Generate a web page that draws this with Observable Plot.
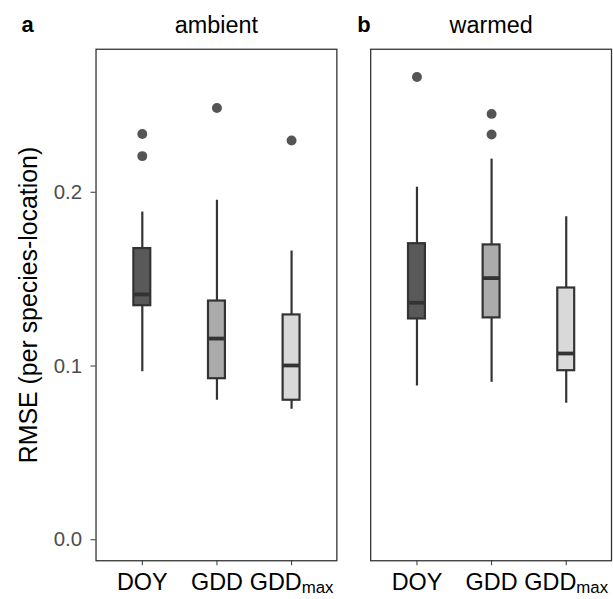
<!DOCTYPE html>
<html>
<head>
<meta charset="utf-8">
<script src="https://cdn.jsdelivr.net/npm/d3@7"></script>
<script src="https://cdn.jsdelivr.net/npm/@observablehq/plot@0.6"></script>
<style>
  html, body { margin: 0; padding: 0; background: white; overflow: hidden; }
  #chart { width: 613px; height: 599px; overflow: hidden; }
</style>
</head>
<body>
<div id="chart"></div>
<script>
// ---- data ----
const panels = ["ambient", "warmed"];
const panelLetters = ["a", "b"];
const categories = ["DOY", "GDD", "GDDmax"];

const boxPanel    = ["ambient", "ambient", "ambient", "warmed", "warmed", "warmed"];
const boxCategory = ["DOY", "GDD", "GDDmax", "DOY", "GDD", "GDDmax"];
const whiskerLow  = [0.0967, 0.0803, 0.0751, 0.0885, 0.0906, 0.0786];
const q1          = [0.1347, 0.0927, 0.0803, 0.1271, 0.1277, 0.0973];
const median      = [0.1412, 0.1158, 0.1003, 0.1364, 0.1506, 0.1072];
const q3          = [0.1676, 0.1374, 0.1294, 0.1704, 0.1697, 0.1449];
const whiskerHigh = [0.1886, 0.1954, 0.1662, 0.2029, 0.2191, 0.1859];

const outlierPanel    = ["ambient", "ambient", "ambient", "ambient", "warmed", "warmed", "warmed"];
const outlierCategory = ["DOY", "DOY", "GDD", "GDDmax", "DOY", "GDD", "GDD"];
const outlierValue    = [0.2335, 0.2208, 0.2485, 0.2298, 0.2663, 0.2451, 0.2332];

const yTicks = [0, 0.1, 0.2];
const yTitle = "RMSE (per species-location)";

// ---- tables ----
const boxes = boxPanel.map((p, i) => ({
  panel: p, category: boxCategory[i],
  low: whiskerLow[i], q1: q1[i], median: median[i], q3: q3[i], high: whiskerHigh[i]
}));
const outliers = outlierPanel.map((p, i) => ({
  panel: p, category: outlierCategory[i], value: outlierValue[i]
}));

const ink = "#333333";

const chart = Plot.plot({
  width: 616,
  height: 599,
  marginLeft: 95,
  marginRight: 1,
  marginTop: 49,
  marginBottom: 36,
  style: { fontFamily: "'Liberation Sans', Arial, sans-serif", background: "white", color: "black" },
  fx: { domain: panels, axis: null, paddingInner: 0.1227, paddingOuter: 0 },
  x: { domain: categories, paddingInner: 0.7763, paddingOuter: 0.487 },
  y: { domain: [-0.01208, 0.2823] },
  color: { domain: categories, range: ["#595959", "#ababab", "#d9d9d9"] },
  marks: [
    Plot.frame({ stroke: ink, strokeWidth: 1.3 }),
    Plot.ruleX(boxes, { fx: "panel", x: "category", y1: "low", y2: "high", stroke: ink, strokeWidth: 2.2 }),
    Plot.barY(boxes, { fx: "panel", x: "category", y1: "q1", y2: "q3", fill: "category", stroke: ink, strokeWidth: 2.2 }),
    Plot.tickY(boxes, { fx: "panel", x: "category", y: "median", stroke: ink, strokeWidth: 3.8 }),
    Plot.dot(outliers, { fx: "panel", x: "category", y: "value", r: 5, fill: "#555555", stroke: "none" }),
    Plot.axisY({ ticks: yTicks, tickFormat: d3.format(".1f"), tickSize: 5, tickPadding: 9,
                 fontSize: 20.5, fill: "#4d4d4d", stroke: ink, label: null }),
    Plot.axisX({ tickSize: 5, tickPadding: 8, fontSize: 23.5, fill: "black", stroke: ink, label: null }),
    Plot.text([yTitle], { fx: () => panels[0], text: d => d, frameAnchor: "left", rotate: -90,
                          dx: -67, fontSize: 25, fill: "black", textAnchor: "middle", lineAnchor: "middle" }),
    Plot.text(panels, { fx: d => d, text: d => d, frameAnchor: "top", dy: -24,
                        fontSize: 23.5, fill: "black", lineAnchor: "middle" }),
    Plot.text([panelLetters[0]], { fx: () => panels[0], text: d => d, frameAnchor: "top-left",
                                   dx: -75, dy: -24, textAnchor: "start", lineAnchor: "middle",
                                   fontWeight: "bold", fontSize: 22, fill: "black" }),
    Plot.text([panelLetters[1]], { fx: () => panels[1], text: d => d, frameAnchor: "top-left",
                                   dx: -13.5, dy: -24, textAnchor: "start", lineAnchor: "middle",
                                   fontWeight: "bold", fontSize: 22, fill: "black" })
  ]
});

// subscript for GDDmax tick labels
const svgns = "http://www.w3.org/2000/svg";
for (const t of chart.querySelectorAll("text")) {
  if (t.textContent === "GDDmax") {
    t.textContent = "GDD";
    const ts = document.createElementNS(svgns, "tspan");
    ts.setAttribute("font-size", "0.72em");
    ts.setAttribute("dy", "0.18em");
    ts.textContent = "max";
    t.appendChild(ts);
  }
}

document.getElementById("chart").appendChild(chart);
</script>
</body>
</html>
